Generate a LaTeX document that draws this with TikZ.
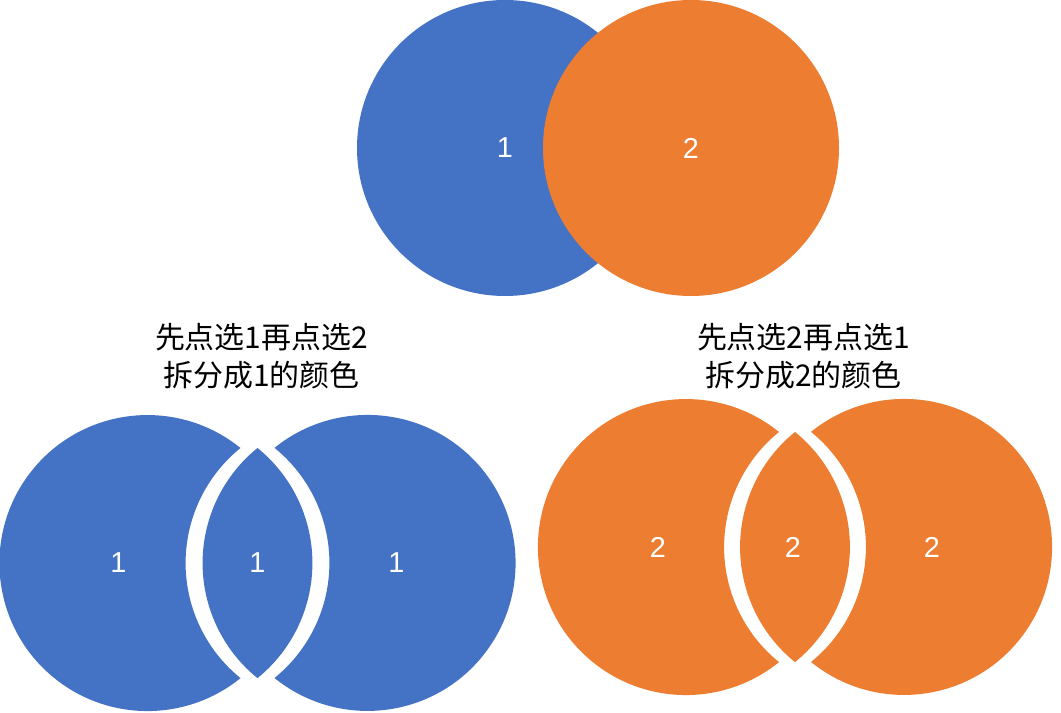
\documentclass[tikz,border=0pt]{standalone}
\usepackage{fontspec}
\setmainfont{Liberation Sans}
\newfontfamily\cjk{Noto Sans CJK SC}
\usepackage{tikz}
\usetikzlibrary{positioning}
\definecolor{setblue}{HTML}{4472C4}
\definecolor{setorange}{HTML}{ED7D31}
\tikzset{
  disc/.style    ={circle,minimum size=296*0.025cm,inner sep=0pt,draw=none,
                   text=white,font=\fontsize{20.5}{24}\selectfont},
  discA/.style   ={disc,fill=setblue},
  discB/.style   ={disc,fill=setorange},
  plab/.style    ={text=white,inner sep=0pt,font=\fontsize{20.5}{24}\selectfont},
  caption/.style ={align=center,inner sep=0pt,
                   font=\cjk\fontsize{21.3}{27}\selectfont},
}
\newcommand{\Rad}{148}
\begin{document}
\begin{tikzpicture}[x=0.025cm, y=0.025cm]
\useasboundingbox (0,0) rectangle (1061,712);
%% top: the two overlapping sets
\node[discA] (one) at (505,564) {1};
\node[discB] (two) at (691,564) {2};
%% bottom left: split, colour of 1
\node[caption] (capA) at (261.5,356) {先点选1再点选2\\拆分成1的颜色};
\begin{scope}[shift={(257.5,149)}]
  \fill[setblue] (-17,115) arc[start angle=51.03,end angle=308.97,radius=\Rad]
        arc[start angle=231.03,end angle=128.97,radius=\Rad] -- cycle;   % left piece
  \fill[setblue] (0,115) arc[start angle=128.97,end angle=231.03,radius=\Rad]
        arc[start angle=-51.03,end angle=51.03,radius=\Rad] -- cycle;    % lens
  \fill[setblue] (17,-115) arc[start angle=231.03,end angle=488.97,radius=\Rad]
        arc[start angle=51.03,end angle=-51.03,radius=\Rad] -- cycle;    % right piece
  \node[plab] (aL) at (-139,0) {1};
  \node[plab] (aM) at (0,0)    {1};
  \node[plab] (aR) at (139,0)  {1};
\end{scope}
%% bottom right: split, colour of 2
\node[caption] (capB) at (803.5,356) {先点选2再点选1\\拆分成2的颜色};
\begin{scope}[shift={(795,165)}]
  \fill[setorange] (-16,115) arc[start angle=51.03,end angle=308.97,radius=\Rad]
        arc[start angle=231.03,end angle=128.97,radius=\Rad] -- cycle;
  \fill[setorange] (0,115) arc[start angle=128.97,end angle=231.03,radius=\Rad]
        arc[start angle=-51.03,end angle=51.03,radius=\Rad] -- cycle;
  \fill[setorange] (16,-115) arc[start angle=231.03,end angle=488.97,radius=\Rad]
        arc[start angle=51.03,end angle=-51.03,radius=\Rad] -- cycle;
  \node[plab] (bL) at (-137,0) {2};
  \node[plab] (bM) at (-2,0)   {2};
  \node[plab] (bR) at (137,0)  {2};
\end{scope}
\end{tikzpicture}
\end{document}
